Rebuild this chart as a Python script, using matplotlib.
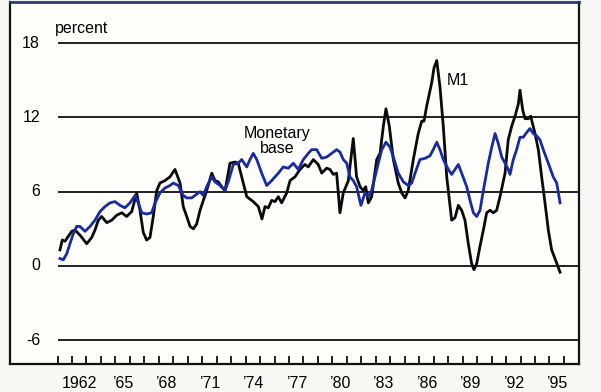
import matplotlib
matplotlib.use("Agg")
import matplotlib.pyplot as plt
import numpy as np

# ---- data (annualized growth, percent) ----
m1_years = [1961.17, 1961.33, 1961.52, 1961.75, 1961.98, 1962.21, 1962.55, 1963.02, 1963.36, 1963.59,
            1963.82, 1964.05, 1964.40, 1964.75, 1965.09, 1965.44, 1965.78, 1966.13, 1966.47, 1966.70,
            1966.93, 1967.16, 1967.39, 1967.62, 1967.86, 1968.08, 1968.43, 1968.77, 1969.12, 1969.47,
            1969.69, 1969.93, 1970.16, 1970.39, 1970.62, 1970.85, 1971.08, 1971.31, 1971.66, 1971.88,
            1972.11, 1972.35, 1972.58, 1972.92, 1973.27, 1973.49, 1973.73, 1974.08, 1974.53, 1974.88,
            1975.13, 1975.34, 1975.57, 1975.80, 1976.03, 1976.26, 1976.49, 1976.84, 1977.07, 1977.41,
            1977.76, 1978.10, 1978.33, 1978.68, 1979.02, 1979.26, 1979.60, 1979.83, 1980.06, 1980.29,
            1980.52, 1980.75, 1981.10, 1981.44, 1981.67, 1981.91, 1982.13, 1982.30, 1982.48, 1982.71,
            1983.06, 1983.29, 1983.52, 1983.70, 1983.93, 1984.21, 1984.55, 1984.79, 1985.02, 1985.24,
            1985.59, 1985.93, 1986.17, 1986.33, 1986.51, 1986.86, 1987.02, 1987.21, 1987.43, 1987.66,
            1987.90, 1988.24, 1988.47, 1988.70, 1988.93, 1989.16, 1989.39, 1989.62, 1989.78, 1989.97,
            1990.20, 1990.43, 1990.66, 1990.89, 1991.12, 1991.35, 1991.58, 1991.93, 1992.15, 1992.39,
            1992.62, 1992.85, 1992.96, 1993.15, 1993.31, 1993.54, 1993.70, 1994.00, 1994.23, 1994.46,
            1994.69, 1994.92, 1995.15, 1995.38, 1995.73]
m1_values = [1.3, 2.1, 2.0, 2.4, 2.8, 2.9, 2.5, 1.8, 2.3, 2.9,
             3.7, 4.0, 3.5, 3.7, 4.1, 4.3, 4.0, 4.4, 5.9, 4.5,
             2.7, 2.1, 2.3, 4.0, 6.1, 6.7, 6.9, 7.2, 7.8, 6.7,
             4.8, 4.0, 3.2, 3.0, 3.4, 4.5, 5.3, 6.1, 7.5, 6.9,
             6.8, 6.4, 6.1, 8.3, 8.4, 8.3, 7.2, 5.6, 5.2, 4.8,
             3.8, 4.8, 4.7, 5.3, 5.2, 5.6, 5.1, 5.9, 6.9, 7.2,
             7.8, 8.2, 8.0, 8.6, 8.2, 7.5, 7.9, 7.8, 7.4, 7.5,
             4.3, 5.9, 6.9, 10.3, 7.2, 6.4, 6.1, 6.4, 5.1, 5.6,
             8.6, 9.1, 11.3, 12.7, 11.3, 8.6, 6.7, 5.9, 5.5, 6.1,
             8.6, 10.7, 11.7, 11.7, 12.9, 14.8, 16.0, 16.6, 14.5, 11.3,
             7.2, 3.7, 3.9, 4.9, 4.5, 3.7, 1.8, 0.2, -0.3, 0.2,
             1.6, 2.9, 4.3, 4.5, 4.3, 4.5, 5.6, 7.5, 10.2, 11.3,
             12.1, 13.1, 14.2, 12.6, 11.9, 11.9, 12.1, 10.7, 9.4, 7.2,
             5.1, 2.9, 1.3, 0.6, -0.5]

mb_years = [1961.17, 1961.40, 1961.64, 1961.86, 1962.09, 1962.33, 1962.55, 1962.90, 1963.25, 1963.59,
            1963.94, 1964.28, 1964.63, 1964.97, 1965.32, 1965.66, 1966.01, 1966.36, 1966.58, 1966.82,
            1967.16, 1967.51, 1967.74, 1968.08, 1968.43, 1968.77, 1969.00, 1969.35, 1969.69, 1969.93,
            1970.27, 1970.50, 1970.85, 1971.08, 1971.31, 1971.66, 1971.88, 1972.23, 1972.58, 1972.80,
            1973.15, 1973.49, 1973.73, 1974.08, 1974.30, 1974.53, 1974.77, 1975.11, 1975.46, 1975.80,
            1976.26, 1976.60, 1976.95, 1977.30, 1977.64, 1977.99, 1978.33, 1978.57, 1978.91, 1979.26,
            1979.60, 1979.95, 1980.29, 1980.52, 1980.75, 1980.99, 1981.21, 1981.44, 1981.67, 1981.97,
            1982.25, 1982.48, 1982.71, 1982.94, 1983.17, 1983.41, 1983.70, 1983.98, 1984.21, 1984.55,
            1984.90, 1985.24, 1985.48, 1985.71, 1986.05, 1986.40, 1986.74, 1986.97, 1987.21, 1987.43,
            1987.66, 1988.01, 1988.24, 1988.47, 1988.70, 1988.93, 1989.28, 1989.51, 1989.74, 1989.97,
            1990.20, 1990.43, 1990.77, 1991.01, 1991.24, 1991.46, 1991.70, 1991.93, 1992.15, 1992.27,
            1992.50, 1992.73, 1992.96, 1993.19, 1993.43, 1993.65, 1993.88, 1994.12, 1994.34, 1994.57,
            1994.92, 1995.26, 1995.50, 1995.73]
mb_values = [0.6, 0.5, 1.0, 1.8, 2.6, 3.2, 3.2, 2.8, 3.2, 3.7,
             4.4, 4.8, 5.1, 5.2, 4.9, 4.7, 5.1, 5.7, 5.1, 4.3,
             4.2, 4.3, 5.1, 5.9, 6.3, 6.5, 6.7, 6.5, 5.7, 5.5,
             5.5, 5.7, 6.0, 5.7, 6.4, 7.2, 6.8, 6.5, 6.1, 6.8,
             8.2, 8.3, 8.6, 8.0, 8.6, 9.1, 8.6, 7.5, 6.5, 6.9,
             7.5, 8.0, 7.9, 8.3, 7.8, 8.6, 9.1, 9.4, 9.4, 8.7,
             8.8, 9.1, 9.4, 9.2, 8.6, 8.3, 7.2, 6.9, 6.4, 4.9,
             5.9, 5.6, 6.1, 7.2, 8.3, 9.4, 10.0, 9.6, 8.8, 7.5,
             6.8, 6.5, 6.7, 7.5, 8.6, 8.7, 8.9, 9.4, 10.0, 9.4,
             8.6, 7.8, 7.4, 7.8, 8.2, 7.5, 6.4, 5.3, 4.3, 4.0,
             4.5, 6.1, 8.3, 9.6, 10.7, 9.9, 8.8, 8.3, 7.8, 7.4,
             8.6, 9.4, 10.4, 10.4, 10.8, 11.1, 10.7, 10.5, 10.2, 9.4,
             8.3, 7.2, 6.7, 5.1]

y_gridlines = [18, 12, 6, 0, -6]
y_ticklabels = ["18", "12", "6", "0", "-6"]
tick_years = list(range(1961, 1997))
label_years = [1962, 1965, 1968, 1971, 1974, 1977, 1980, 1983, 1986, 1989, 1992, 1995]
x_labels = ["1962", "\u201965", "\u201968", "\u201971", "\u201974", "\u201977", "\u201980",
            "\u201983", "\u201986", "\u201989", "\u201992", "\u201995"]

plt.rcParams['font.family'] = ['Liberation Sans', 'DejaVu Sans']
FS = 11.5

fig = plt.figure(figsize=(6.01, 3.92), dpi=100, facecolor='#f7f7f3')
W, H = 601, 392
ax = fig.add_axes([10 / W, 1 - 364 / H, (579 - 10) / W, (364 - 1.5) / H])
ax.set_facecolor('#fdfdf9')

x0 = 1961.0
xmin = x0 - (57.5 - 10) / 14.47
xmax = x0 + (579 - 57.5) / 14.47
ax.set_xlim(xmin, xmax)
ymin = (266 - 364) / 12.38
ymax = (266 - 1.5) / 12.38
ax.set_ylim(ymin, ymax)

for s in ['left', 'bottom', 'right']:
    ax.spines[s].set_color('#111111')
    ax.spines[s].set_linewidth(1.6)
ax.spines['top'].set_color('#2a3a70')
ax.spines['top'].set_linewidth(2.0)

ax.hlines(y_gridlines, x0, xmax, color='#111111', linewidth=1.3, zorder=1)

ax.plot(mb_years, mb_values, color='#1a2aa0', linewidth=2.0, zorder=3, solid_joinstyle='round')
ax.plot(m1_years, m1_values, color='#0a0a0a', linewidth=2.0, zorder=2, solid_joinstyle='round')

# x ticks: year boundaries (marks), labels at mid-year
ax.set_xticks(tick_years)
ax.set_xticklabels([])
ax.tick_params(axis='x', which='major', direction='in', length=6, width=1.3, color='#111111')
ax.set_xticks([y + 0.5 for y in label_years], minor=True)
ax.set_xticklabels(x_labels, minor=True, fontsize=FS)
ax.tick_params(axis='x', which='minor', length=0, pad=9)

ax.set_yticks([])
for v, lab in zip(y_gridlines, y_ticklabels):
    ax.text(xmin + (40 - 10) / 14.47, v, lab, ha='right', va='center', fontsize=FS)

ax.text(x0 - 0.15, 18 + 0.55, "percent", ha='left', va='bottom', fontsize=FS)
ax.text(1976.2, 8.9, "Monetary\nbase", ha='center', va='bottom', fontsize=FS, linespacing=1.0)
ax.text(1987.9, 15.0, "M1", ha='left', va='center', fontsize=FS)

fig.savefig("out.png", dpi=100, facecolor=fig.get_facecolor())
